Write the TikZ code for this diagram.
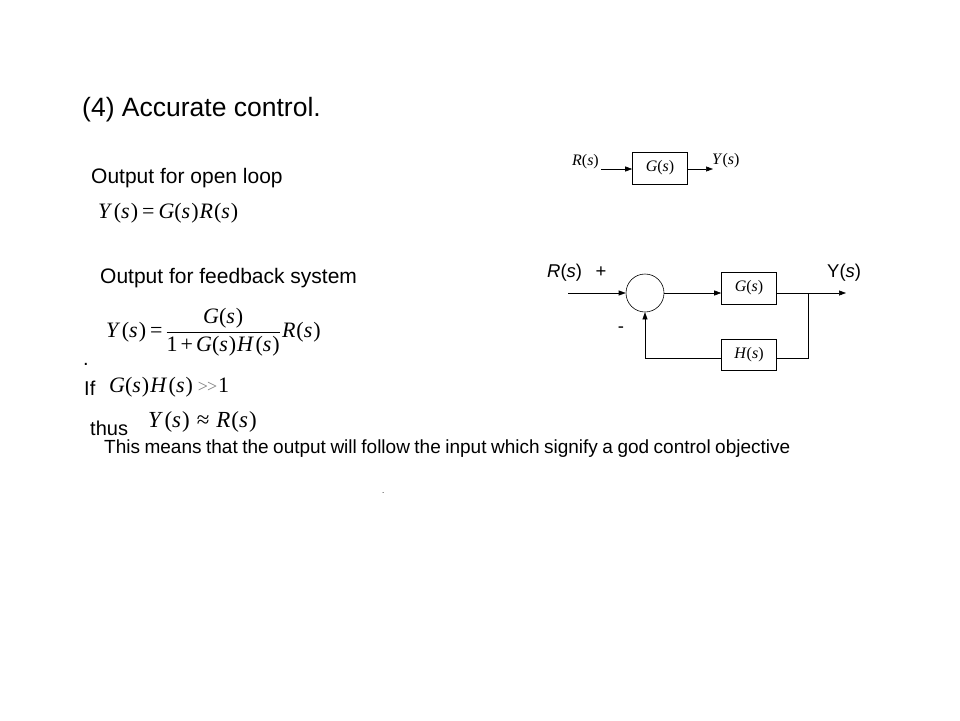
\documentclass[tikz,border=0pt]{standalone}
\usepackage{fontspec}
\setmainfont{Liberation Sans}
\newfontfamily\tnr{Liberation Serif}
\usetikzlibrary{arrows.meta}
\begin{document}
\begin{tikzpicture}[x=1pt,y=-1pt,
  txt/.style={anchor=west,inner sep=0pt},
  blk/.style={draw,line width=0.6pt,minimum width=55pt,minimum height=32pt,inner sep=0pt,font=\tnr\fontsize{16}{18}\selectfont},
  sig/.style={line width=0.6pt,-{Triangle[length=7pt,width=5pt]}},
  wire/.style={line width=0.6pt}]
\useasboundingbox[fill=white] (0,0) rectangle (960,720);
% texts
\node[txt,font=\fontsize{26.5}{30}\selectfont] (title) at (82,110) {(4) Accurate control.};
\node[txt,font=\fontsize{21}{24}\selectfont] (ol) at (91,178) {Output for open loop};
\node[txt,font=\tnr\fontsize{22}{26}\selectfont] (eq1) at (98,213) {\textit{Y}\kern1.5pt(\textit{s}\kern1pt)\kern4pt=\kern4pt\textit{G}(\textit{s}\kern1pt)\kern1pt\textit{R}\kern1pt(\textit{s}\kern1pt)};
\node[txt,font=\fontsize{21}{24}\selectfont] (fb) at (100,278) {Output for feedback system};
\node[txt,font=\tnr\fontsize{22}{26}\selectfont] (eq2) at (106,332) {\textit{Y}\kern1.5pt(\textit{s}\kern1pt)\kern4pt=\kern3pt$\displaystyle\frac{\hbox{\textit{G}(\textit{s}\kern1pt)}}{\hbox{1\kern3pt+\kern3pt\textit{G}(\textit{s}\kern1pt)\kern1pt\textit{H}\kern1.5pt(\textit{s}\kern1pt)}}$\kern1pt\textit{R}\kern1pt(\textit{s}\kern1pt)};
\node[txt,font=\fontsize{20}{24}\selectfont] (dot1) at (83,364) {.};
\node[txt,font=\fontsize{20}{24}\selectfont] (if) at (84,388) {If};
\node[txt,font=\tnr\fontsize{22}{26}\selectfont] (eq3) at (109,387) {\textit{G}(\textit{s}\kern1pt)\kern1pt\textit{H}\kern1.5pt(\textit{s}\kern1pt)\kern5pt\textcolor{gray}{\fontsize{18}{20}\selectfont >\kern-1pt>}\kern1pt1};
\node[txt,font=\fontsize{20}{24}\selectfont] (thus) at (90,428) {thus};
\node[txt,font=\tnr\fontsize{23}{27}\selectfont] (eq4) at (148,422) {\textit{Y}\kern1.5pt(\textit{s}\kern1pt)\kern7pt≈\kern7pt\textit{R}\kern1pt(\textit{s}\kern1pt)};
\node[txt,font=\fontsize{19}{22}\selectfont] (means) at (104,449) {\spaceskip=4.5pt This means that the output will follow the input which signify a god control objective};
\node[txt,font=\fontsize{8}{10}\selectfont] (dot2) at (382,493) {.};
% open loop diagram
\node[blk] (G1) at (660,168) {\textit{G}(\textit{s})};
\node[anchor=east,inner sep=0pt,font=\tnr\fontsize{16}{18}\selectfont] (R1) at (599,162) {\textit{R}(\textit{s})};
\node[anchor=west,inner sep=0pt,font=\tnr\fontsize{16}{18}\selectfont] (Y1) at (712,161) {\textit{Y}(\textit{s})};
\coordinate (r1a) at (601,169);
\coordinate (y1b) at (713,169);
\draw[sig] (r1a) -- (r1a -| G1.west);
\draw[sig] (G1.east |- y1b) -- (y1b);
% feedback diagram
\node[draw,circle,line width=0.6pt,minimum size=38pt,inner sep=0pt] (sum) at (645,293) {};
\node[blk] (G2) at (749,288) {\textit{G}(\textit{s})};
\node[blk,minimum height=31pt] (H2) at (749,355) {\textit{H}(\textit{s})};
\coordinate (in) at (568,293);
\coordinate (out) at (846,293);
\coordinate (br) at (808,293);
\coordinate (brd) at (808,358);
\coordinate (fbl) at (645,358);
\draw[sig] (in) -- (sum.west);
\draw[sig] (sum.east) -- (sum.east -| G2.west);
\draw[sig] (G2.east |- out) -- (out);
\draw[wire] (br) -- (brd) -- (brd -| H2.east);
\draw[sig] (H2.west |- fbl) -- (fbl) -- (sum.south);
\node[anchor=west,inner sep=0pt,font=\fontsize{18.5}{21}\selectfont] (R2) at (547,273) {\textit{R}(\textit{s})};
\node[inner sep=0pt,font=\fontsize{18.5}{21}\selectfont] (plus) at (601,272) {+};
\node[anchor=west,inner sep=0pt,font=\fontsize{18.5}{21}\selectfont] (Y2) at (827,273) {Y(\textit{s})};
\node[inner sep=0pt,font=\fontsize{18.5}{21}\selectfont] (minus) at (621,330) {-};
\end{tikzpicture}
\end{document}
